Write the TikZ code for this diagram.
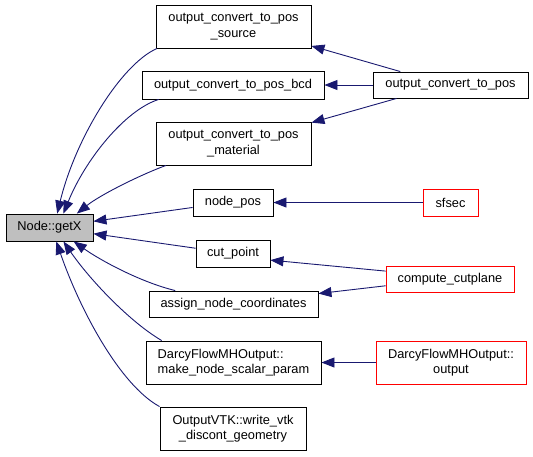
\documentclass[tikz,border=0pt]{standalone}
\usepackage{fontspec}
\setmainfont{Liberation Sans}
\usetikzlibrary{arrows.meta}
\definecolor{edgeblue}{HTML}{191970}
\definecolor{nodegray}{HTML}{BFBFBF}
\begin{document}
\begin{tikzpicture}[x=1pt,y=-1pt,
  box/.style={draw=black, line width=0.9pt, inner sep=0pt, align=center,
    font=\fontsize{12.8}{15.5}\selectfont},
  redbox/.style={box, draw=red},
  edge/.style={draw=edgeblue, line width=0.9pt, -{Triangle[length=13pt,width=10pt]}}]
\useasboundingbox (0,0) rectangle (533,456);
% nodes
\node[box, fill=nodegray, minimum width=87pt, minimum height=27pt] (getX) at (49.5,227.5) {Node::getX};
\node[box, minimum width=155pt, minimum height=43pt] (src) at (233.5,26.5) {output\_convert\_to\_pos\\\_source};
\node[box, minimum width=182pt, minimum height=28pt] (bcd) at (233,85) {output\_convert\_to\_pos\_bcd};
\node[box, minimum width=155pt, minimum height=43pt] (mat) at (233.5,143.5) {output\_convert\_to\_pos\\\_material};
\node[box, minimum width=80pt, minimum height=27pt] (npos) at (233,202.5) {node\_pos};
\node[box, minimum width=74pt, minimum height=27pt] (cutp) at (233,253.5) {cut\_point};
\node[box, minimum width=169pt, minimum height=26pt] (assign) at (233.5,304) {assign\_node\_coordinates};
\node[box, align=left, minimum width=175pt, minimum height=43pt] (mknode) at (233.5,362.5) {DarcyFlowMHOutput::\\make\_node\_scalar\_param};
\node[box, minimum width=146pt, minimum height=43pt] (vtk) at (233,428.5) {OutputVTK::write\_vtk\\\_discont\_geometry};
\node[box, minimum width=155pt, minimum height=26pt] (pos) at (450.5,85) {output\_convert\_to\_pos};
\node[redbox, minimum width=55pt, minimum height=27pt] (sfsec) at (450.5,202.5) {sfsec};
\node[redbox, minimum width=128pt, minimum height=26pt] (cutplane) at (450,279) {compute\_cutplane};
\node[redbox, minimum width=150pt, minimum height=43pt] (dout) at (451,362.5) {DarcyFlowMHOutput::\\output};
% edges into getX
\draw[edge] (src.196) .. controls (120,65) and (75,140) .. (getX.61);
\draw[edge] (bcd.191.6) .. controls (125,110) and (85,160) .. (getX.45);
\draw[edge] (mat.198.7) .. controls (140,175) and (100,195) .. (getX.27);
\draw[edge] (npos.187.8) -- (getX.8.5);
\draw[edge] (cutp.172) -- (getX.-8.5);
\draw[edge] (assign.167.5) .. controls (140,282) and (100,260) .. (getX.-30);
\draw[edge] (mknode.163) .. controls (130,322) and (90,280) .. (getX.-45);
\draw[edge] (vtk.north west) .. controls (120,385) and (80,310) .. (getX.-64);
% edges from right column
\draw[edge] (pos.165.6) -- (src.-14.1);
\draw[edge] (pos.west) -- (bcd.east);
\draw[edge] (pos.194.4) -- (mat.15.5);
\draw[edge] (sfsec.west) -- (npos.east);
\draw[edge] (cutplane.173) -- (cutp.-10);
\draw[edge] (cutplane.186) -- (assign.7.4);
\draw[edge] (dout.west) -- (mknode.east);
\end{tikzpicture}
\end{document}
